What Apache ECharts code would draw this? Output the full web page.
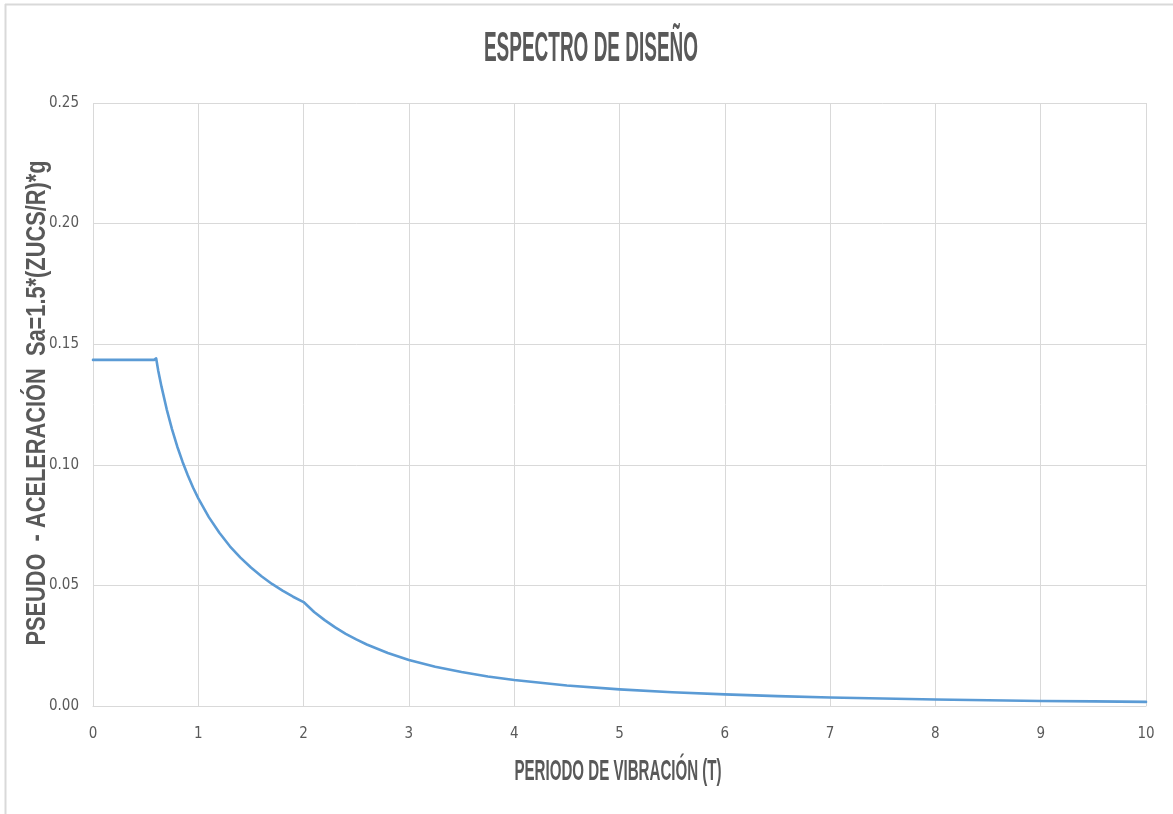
<!DOCTYPE html>
<html>
<head>
<meta charset="utf-8">
<script src="https://cdn.jsdelivr.net/npm/echarts@6/dist/echarts.min.js"></script>
<style>
  html, body { margin: 0; padding: 0; background: #ffffff; }
  #chart { width: 1173px; height: 814px; }
</style>
</head>
<body>
<div id="chart"></div>
<script>
// Periods T (s) and spectral pseudo-acceleration Sa (g)
const periods = [0, 0.2, 0.4, 0.58, 0.6, 0.62, 0.65, 0.7, 0.75, 0.8, 0.85, 0.9, 0.95, 1.0, 1.1, 1.2, 1.3, 1.4, 1.5, 1.6, 1.7, 1.8, 1.9, 2.0,
  2.1, 2.2, 2.3, 2.4, 2.5, 2.6, 2.8, 3.0, 3.25, 3.5, 3.75, 4.0, 4.5, 5.0, 5.5, 6.0, 6.5, 7.0, 7.5, 8.0, 8.5, 9.0, 9.5, 10.0];
const accel = [0.1435, 0.1435, 0.1435, 0.1435, 0.1441, 0.1389, 0.1325, 0.1230, 0.1148, 0.1076, 0.1013, 0.0957, 0.0906, 0.0861, 0.0783, 0.0718, 0.0662, 0.0615, 0.0574, 0.0538, 0.0506, 0.0478, 0.0453, 0.0431,
  0.0390, 0.0356, 0.0326, 0.0299, 0.0276, 0.0255, 0.0220, 0.0191, 0.0163, 0.0141, 0.0122, 0.0108, 0.0085, 0.0069, 0.0057, 0.0048, 0.0041, 0.0035, 0.0031, 0.0027, 0.0024, 0.0021, 0.0019, 0.0017];

const titleText = 'ESPECTRO DE DISEÑO';
const xName = 'PERIODO DE VIBRACIÓN (T)';
const yName = 'PSEUDO  - ACELERACIÓN  Sa=1.5*(ZUCS/R)*g';

const gray = '#595959';
const gridColor = '#d9d9d9';
const labelFont = '"Liberation Sans Narrow", "DejaVu Sans Condensed", sans-serif';
const nameFont = '"Liberation Sans Narrow", sans-serif';

const chart = echarts.init(document.getElementById('chart'));
chart.setOption({
  backgroundColor: '#ffffff',
  animation: false,
  grid: { left: 93, right: 27, top: 103, bottom: 108 },
  xAxis: {
    type: 'value', min: 0, max: 10, interval: 1,
    axisLine: { show: true, lineStyle: { color: gridColor, width: 1 } },
    axisTick: { show: false },
    splitLine: { show: true, lineStyle: { color: gridColor, width: 1 } },
    axisLabel: { color: gray, fontSize: 15, fontFamily: labelFont, margin: 21 }
  },
  yAxis: {
    type: 'value', min: 0, max: 0.25, interval: 0.05,
    axisLine: { show: false },
    axisTick: { show: false },
    splitLine: { show: true, lineStyle: { color: gridColor, width: 1 } },
    axisLabel: { color: gray, fontSize: 15, fontFamily: labelFont, margin: 14,
      formatter: v => v.toFixed(2) }
  },
  series: [{
    type: 'line',
    data: periods.map((t, i) => [t, accel[i]]),
    showSymbol: false,
    smooth: false,
    lineStyle: { color: '#5b9bd5', width: 2.6, join: 'round', cap: 'round' },
    itemStyle: { color: '#5b9bd5' }
  }],
  graphic: [
    { type: 'line', shape: { x1: 5, y1: 4.5, x2: 1173, y2: 4.5 }, style: { stroke: gridColor, lineWidth: 2 }, silent: true },
    { type: 'line', shape: { x1: 5.5, y1: 4, x2: 5.5, y2: 814 }, style: { stroke: gridColor, lineWidth: 2 }, silent: true },
    { type: 'text', x: 591, y: 49, scaleX: 0.73, scaleY: 1.65,
      style: { text: titleText, fill: gray, font: 'bold 26px ' + nameFont,
        textAlign: 'center', textVerticalAlign: 'middle' } },
    { type: 'text', x: 618, y: 772, scaleX: 0.755, scaleY: 1.5,
      style: { text: xName, fill: gray, font: 'bold 20px ' + nameFont,
        textAlign: 'center', textVerticalAlign: 'middle' } },
    { type: 'text', x: 37, y: 403, rotation: Math.PI / 2, scaleX: 1.09, scaleY: 1.4,
      style: { text: yName, fill: gray, font: 'bold 20px ' + nameFont,
        textAlign: 'center', textVerticalAlign: 'middle' } }
  ]
});
</script>
</body>
</html>
